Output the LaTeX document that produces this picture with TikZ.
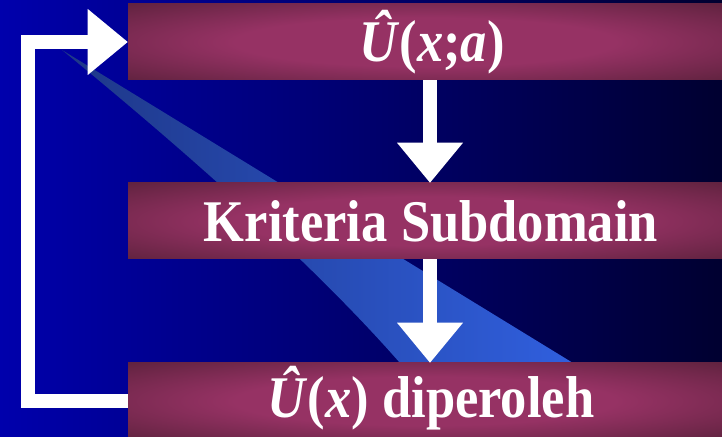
\documentclass[tikz,border=0pt]{standalone}
\usepackage{fontspec}
\setmainfont{Liberation Serif}
\usetikzlibrary{arrows.meta}

\definecolor{bgleft}{RGB}{0,0,172}
\definecolor{bgright}{RGB}{0,0,48}
\definecolor{beamdim}{RGB}{30,55,135}
\definecolor{beamlit}{RGB}{48,95,222}
\definecolor{boxdark}{RGB}{74,28,48}
\definecolor{boxlight}{RGB}{150,50,100}

\pgfdeclareradialshading{boxglow}{\pgfpoint{0bp}{0bp}}{color(0bp)=(boxlight); color(16bp)=(boxlight); color(44bp)=(boxdark); color(50bp)=(boxdark)}

\tikzset{
    slab/.style={shade, shading=boxglow, minimum width=14.85cm,
                 minimum height=1.9cm, inner sep=0pt},
    slabtext/.style={text=white, font=\fontsize{42}{48}\selectfont\bfseries,
                     anchor=base, inner sep=0pt},
    flow/.style={-{Triangle[width=1.65cm, length=1cm, line width=0pt]},
                 white, line width=0.34cm, line join=miter},
}
\newcommand{\squeeze}[1]{\scalebox{0.89}[1]{#1}}

\begin{document}
\begin{tikzpicture}
    \useasboundingbox (0,0) rectangle (18.05,10.925);
    \fill[left color=bgleft, right color=bgright] (0,0) rectangle (18.05,10.925);
    % light beam behind the boxes
    \shade[left color=beamdim, right color=beamlit]
        (1.55,9.675) -- (14.325,1.85) -- (10,1.85)
        .. controls (7.81,4.35) and (4.6,7.175) .. cycle;

    \node[slab] (box1) at (10.625,9.875) {};
    \node[slab] (box2) at (10.625,5.4) {};
    \node[slab] (box3) at (10.625,0.9) {};

    \node[slabtext] (hatua) at (10.8,9.375) {\squeeze{\textit{Û}(\textit{x};\textit{a})}};
    \node[slabtext] (kriteria) at (10.775,4.875) {\squeeze{Kriteria Subdomain}};
    \node[slabtext] (hatu) at (10.775,0.475) {\squeeze{\textit{Û}(\textit{x}) diperoleh}};

    \coordinate (down) at (10.75,0);
    \draw[flow] (box1.south -| down) -- (box2.north -| down);
    \draw[flow] (box2.south -| down) -- (box3.north -| down);
    \coordinate (bend) at ([xshift=-2.49cm]box1.west);
    \draw[flow] (box3.west) -| (bend) -- (box1.west);
\end{tikzpicture}
\end{document}
